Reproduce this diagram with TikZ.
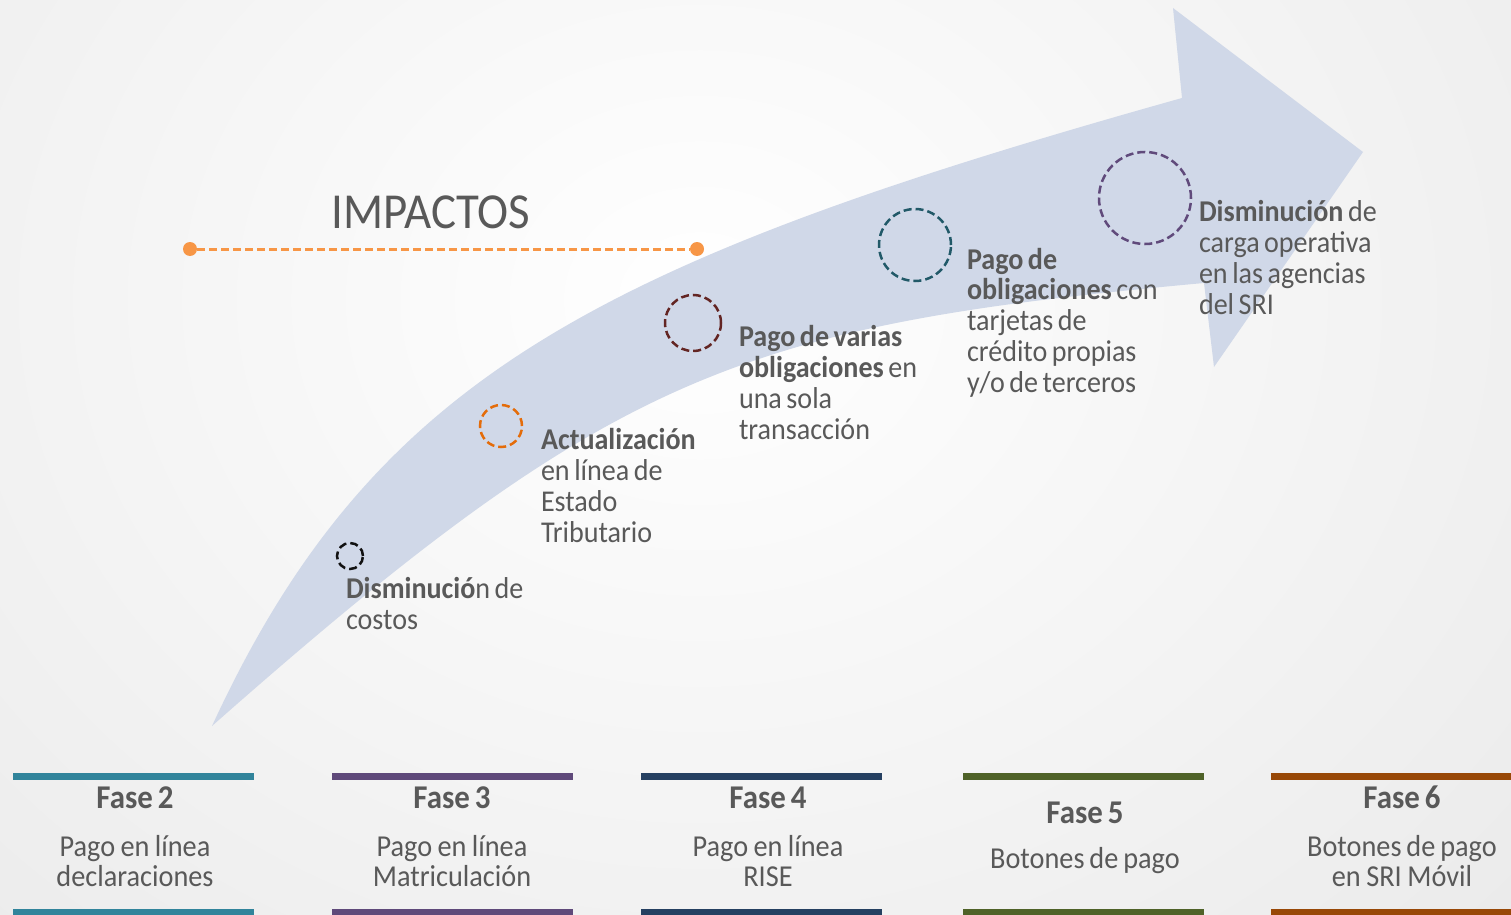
\documentclass[tikz,border=0pt]{standalone}
\usepackage{fontspec}
\setmainfont{Carlito}[FakeStretch=0.93]
\newcommand{\tightsp}{\spaceskip=0.15em plus 0.05em minus 0.03em\relax}
\definecolor{txtgray}{HTML}{595959}
\definecolor{arrowfill}{HTML}{D0D8E8}
\definecolor{orangeline}{HTML}{F79646}
\definecolor{bggray}{HTML}{E9E9E9}
\definecolor{fteal}{HTML}{31849B}
\definecolor{fpurple}{HTML}{5F497A}
\definecolor{fnavy}{HTML}{254061}
\definecolor{folive}{HTML}{4F6228}
\definecolor{frust}{HTML}{984807}
\definecolor{rblack}{HTML}{111111}
\definecolor{rorange}{HTML}{E46C0A}
\definecolor{rred}{HTML}{632523}
\definecolor{rteal}{HTML}{215968}
\definecolor{rpurple}{HTML}{604A7B}
\begin{document}
\begin{tikzpicture}[x=0.5pt,y=-0.5pt,
  txt/.style={text=txtgray, inner sep=0pt, outer sep=0pt, execute at begin node=\tightsp},
  impacttxt/.style={txt, anchor=base west, align=left, text width=120pt,
    font=\fontsize{15.1}{15.5}\selectfont},
  phasetitle/.style={txt, anchor=base, font=\bfseries\fontsize{16.6}{16.6}\selectfont},
  phasedesc/.style={txt, anchor=base, align=center, text width=110pt,
    font=\fontsize{15.2}{15}\selectfont},
  ring/.style={circle, draw=#1, line width=1.25pt, dash pattern=on 4pt off 2pt,
    inner sep=0pt},
  phasebar/.style={fill=#1, draw=none},
  enddot/.style={circle, fill=orangeline, inner sep=0pt, minimum size=7pt},
  impactline/.style={draw=orangeline, line width=1.5pt, dash pattern=on 4pt off 2pt}
]
\useasboundingbox (0,0) rectangle (1511,915);
\clip (0,0) rectangle (1511,915);
% background
\shade[inner color=white, outer color=bggray] (-500,-700) rectangle (1900,1300);

% big curved arrow
\fill[arrowfill] (212,726) .. controls (373,377) and (597,262) .. (1182,98)
  -- (1173,8) -- (1363,152) -- (1214,367) -- (1204,283)
  .. controls (740,325.5) and (613,372) .. (212,726) -- cycle;

% IMPACTOS
\node[txt, font=\fontsize{25.2}{25.2}\selectfont] (title) at (431,212) {IMPACTOS};
\node[enddot] (dl) at (190,249) {};
\node[enddot] (dr) at (697,249) {};
\draw[impactline] (dl) -- (dr);

% rings
\node[ring=rblack, minimum size=13pt] (c1) at (350,556) {};
\node[ring=rorange, minimum size=21pt] (c2) at (501,426) {};
\node[ring=rred, minimum size=28pt] (c3) at (693,323) {};
\node[ring=rteal, minimum size=36pt] (c4) at (915,245) {};
\node[ring=rpurple, minimum size=46pt] (c5) at (1145,198) {};

% impact texts
\node[impacttxt] (t1) at (346,598) {\textbf{Disminució}n de\\costos};
\node[impacttxt] (t2) at (541,449) {\textbf{Actualización}\\en línea de\\Estado\\Tributario};
\node[impacttxt] (t3) at (739,346) {\textbf{Pago de varias}\\\textbf{obligaciones} en\\una sola\\transacción};
\node[impacttxt] (t4) at (967,269) {\textbf{Pago de}\\\textbf{obligaciones} con\\tarjetas de\\crédito propias\\y/o de terceros};
\node[impacttxt] (t5) at (1199,221) {\textbf{Disminución} de\\carga operativa\\en las agencias\\del SRI};

% phase bars
\foreach \x/\c in {13/fteal,332/fpurple,641/fnavy,963/folive,1271/frust}{
  \fill[phasebar=\c] (\x,773) rectangle ++(241,7);
  \fill[phasebar=\c] (\x,909) rectangle ++(241,7);
}

% phase texts
\node[phasetitle] (f2) at (135,808) {Fase 2};
\node[phasedesc] (d2) at (135,856) {Pago en línea\\declaraciones};
\node[phasetitle] (f3) at (452,808) {Fase 3};
\node[phasedesc] (d3) at (452,856) {Pago en línea\\Matriculación};
\node[phasetitle] (f4) at (768,808) {Fase 4};
\node[phasedesc] (d4) at (768,856) {Pago en línea\\RISE};
\node[phasetitle] (f5) at (1085,823) {Fase 5};
\node[phasedesc] (d5) at (1085,868) {Botones de pago};
\node[phasetitle] (f6) at (1402,808) {Fase 6};
\node[phasedesc] (d6) at (1402,856) {Botones de pago\\en SRI Móvil};
\end{tikzpicture}
\end{document}
